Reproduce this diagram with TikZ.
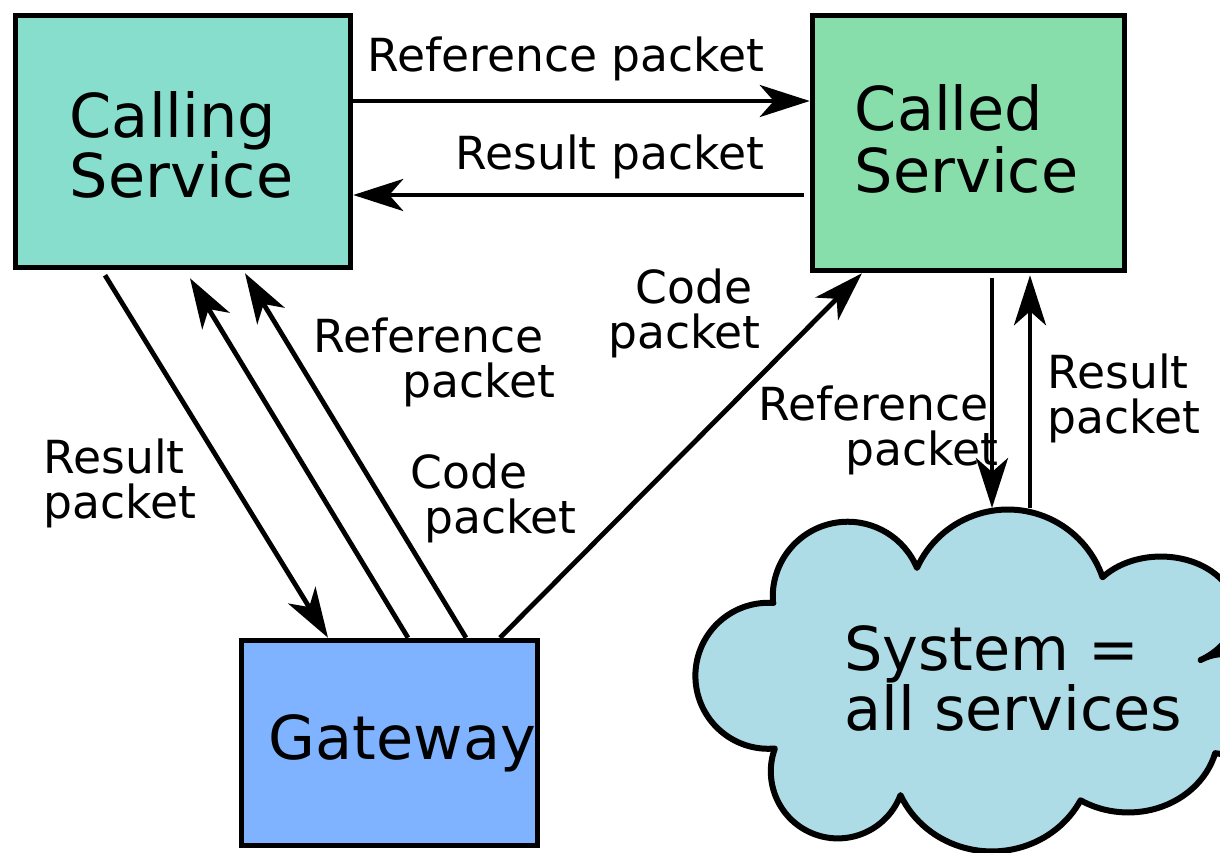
\documentclass[tikz,border=0pt]{standalone}
\usepackage{fontspec}
\setmainfont{DejaVu Sans}
\usetikzlibrary{arrows.meta}
\definecolor{callingfill}{HTML}{87DECD}
\definecolor{calledfill}{HTML}{87DEAA}
\definecolor{gatewayfill}{HTML}{80B3FF}
\definecolor{cloudfill}{HTML}{ADDBE6}
\begin{document}
\begin{tikzpicture}[x=1pt,y=-1pt,
  box/.style={draw=black, line width=5.5pt, inner sep=0pt, rectangle},
  big/.style={inner sep=0pt, font=\fontsize{60.5pt}{60pt}\selectfont, align=left},
  lbl/.style={inner sep=0pt, font=\fontsize{45.6pt}{45pt}\selectfont, align=left},
  arr/.style={line width=4.8pt, -{Stealth[length=50pt,width=32pt,inset=14pt]}},
  cloudline/.style={line width=6pt, fill=cloudfill, line join=round}
]
\useasboundingbox (0,0) rectangle (1220,853);
\fill[white] (0,0) rectangle (1220,853);

% boxes
\node[box, fill=callingfill, minimum width=335pt, minimum height=252pt] (calling) at (183,141.5) {};
\node[box, fill=calledfill, minimum width=312pt, minimum height=255pt] (called) at (968.5,143) {};
\node[box, fill=gatewayfill, minimum width=296pt, minimum height=205pt] (gateway) at (389.5,743) {};

\node[big, anchor=north west] (callingtext) at (69.5,91.4) {Calling\\Service};
\node[big, anchor=north west, font=\fontsize{60.5pt}{62pt}\selectfont] (calledtext) at (854.6,84.4) {Called\\Service};
\node[big, anchor=base west] (gatewaytext) at (268.6,759) {Gateway};

% cloud
\begin{scope}
\clip (0,0) rectangle (1220,853);
\draw[cloudline] (773,603)
  arc[start angle=175.2, end angle=337.4, radius=75]
  arc[start angle=204.6, end angle=341.2, radius=100]
  arc[start angle=219, end angle=418, x radius=75, y radius=56]
  arc[start angle=241.6, end angle=460.6, radius=50]
  arc[start angle=15, end angle=122, x radius=90, y radius=80]
  arc[start angle=27.5, end angle=156, x radius=100, y radius=95]
  arc[start angle=20.7, end angle=200, radius=67]
  arc[start angle=84.9, end angle=274, radius=73]
  -- cycle;
\end{scope}
\coordinate (cloudin) at (992,508);
\coordinate (cloudout) at (1030,508);
\node[big, anchor=north west] (cloudtext) at (844,625.5) {System =\\all services};

% connectors
\draw[arr] (calling.east |- 0,101) -- (called.west |- 0,101);
\draw[arr, shorten <=6pt] (called.west |- 0,195) -- (calling.east |- 0,195);
\draw[arr] ([xshift=-78pt,yshift=-5pt]calling.south) -- ([xshift=-61.5pt]gateway.north);
\draw[arr] ([xshift=18.5pt]gateway.north) -- ([xshift=7pt,yshift=-8pt]calling.south);
\draw[arr] ([xshift=76.5pt]gateway.north) -- ([xshift=62pt,yshift=-3pt]calling.south);
\draw[arr] ([xshift=110.5pt]gateway.north) -- ([xshift=-106.5pt]called.south);
\draw[arr] ([xshift=23.5pt,yshift=-5pt]called.south) -- (cloudin);
\draw[arr] (cloudout) -- ([xshift=61.5pt,yshift=-2pt]called.south);

% labels
\node[lbl, anchor=base west] (reftop) at (367.6,72) {Reference packet};
\node[lbl, anchor=base west] (restop) at (455.6,170) {Result packet};
\node[lbl, anchor=north west] (resleft) at (43.6,438.8) {Result\\packet};
\node[lbl, anchor=north west] (refmid) at (313.6,317.8) {Reference\\\hspace*{89pt}packet};
\node[lbl, anchor=north west] (codelow) at (410.4,453.8) {Code\\\hspace*{13.5pt}packet};
\node[lbl, anchor=north west] (codeup) at (607.9,268.8) {\hspace*{27.5pt}Code\\packet};
\node[lbl, anchor=north west] (refright) at (758.6,385.8) {Reference\\\hspace*{87pt}packet};
\node[lbl, anchor=north west] (resright) at (1047.6,353.8) {Result\\packet};
\end{tikzpicture}
\end{document}
